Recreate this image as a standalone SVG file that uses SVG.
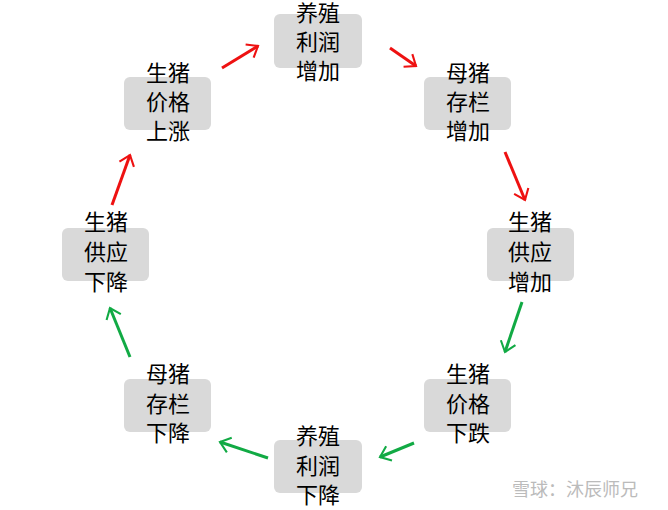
<svg xmlns="http://www.w3.org/2000/svg" width="668" height="510" viewBox="0 0 668 510">
<style>
.b{fill:#d9d9d9}
.t{font-family:"Noto Sans CJK SC","Noto Sans",sans-serif;font-size:22px;fill:#000;text-anchor:middle}
.r{stroke:#ee1111;stroke-width:3;fill:none}
.g{stroke:#11aa44;stroke-width:3;fill:none}
.w{font-family:"Noto Sans CJK SC",sans-serif;font-size:18px;fill:#bbbbbb}
</style>
<defs>
<marker id="mr" viewBox="0 0 10 10" refX="9" refY="5" markerWidth="7" markerHeight="7" orient="auto" markerUnits="userSpaceOnUse" style="overflow:visible"><path d="M-5,-6 L9,5 L-5,16" fill="none" stroke="#ee1111" stroke-width="3"/></marker>
<marker id="mg" viewBox="0 0 10 10" refX="9" refY="5" markerWidth="7" markerHeight="7" orient="auto" markerUnits="userSpaceOnUse" style="overflow:visible"><path d="M-5,-6 L9,5 L-5,16" fill="none" stroke="#11aa44" stroke-width="3"/></marker>
</defs>
<rect width="668" height="510" fill="#fff"/>
<g id="connectors">
<line class="r" x1="222" y1="68" x2="258" y2="46" marker-end="url(#mr)"/>
<line class="r" x1="390" y1="48" x2="416" y2="66" marker-end="url(#mr)"/>
<line class="r" x1="505" y1="152" x2="525" y2="200" marker-end="url(#mr)"/>
<line class="r" x1="112" y1="205" x2="130" y2="155" marker-end="url(#mr)"/>
<line class="g" x1="522" y1="302" x2="505" y2="352" marker-end="url(#mg)"/>
<line class="g" x1="414" y1="443" x2="380" y2="457" marker-end="url(#mg)"/>
<line class="g" x1="268" y1="458" x2="220" y2="442" marker-end="url(#mg)"/>
<line class="g" x1="130" y1="357" x2="110" y2="308" marker-end="url(#mg)"/>
</g>
<g id="n1"><rect class="b" x="274" y="14" width="88" height="54" rx="6"/><text class="t" x="318" y="21">养殖</text><text class="t" x="318" y="50">利润</text><text class="t" x="318" y="79">增加</text></g>
<g id="n2"><rect class="b" x="424" y="77" width="87" height="53" rx="6"/><text class="t" x="468" y="81">母猪</text><text class="t" x="468" y="110">存栏</text><text class="t" x="468" y="139">增加</text></g>
<g id="n3"><rect class="b" x="487" y="228" width="87" height="53" rx="6"/><text class="t" x="530" y="230">生猪</text><text class="t" x="530" y="260">供应</text><text class="t" x="530" y="290">增加</text></g>
<g id="n4"><rect class="b" x="424" y="379" width="87" height="53" rx="6"/><text class="t" x="468" y="382">生猪</text><text class="t" x="468" y="412">价格</text><text class="t" x="468" y="441">下跌</text></g>
<g id="n5"><rect class="b" x="274" y="440" width="88" height="53" rx="6"/><text class="t" x="318" y="444">养殖</text><text class="t" x="318" y="474">利润</text><text class="t" x="318" y="503">下降</text></g>
<g id="n6"><rect class="b" x="124" y="379" width="87" height="53" rx="6"/><text class="t" x="168" y="382">母猪</text><text class="t" x="168" y="412">存栏</text><text class="t" x="168" y="441">下降</text></g>
<g id="n7"><rect class="b" x="62" y="228" width="87" height="53" rx="6"/><text class="t" x="106" y="230">生猪</text><text class="t" x="106" y="260">供应</text><text class="t" x="106" y="290">下降</text></g>
<g id="n8"><rect class="b" x="124" y="77" width="87" height="53" rx="6"/><text class="t" x="168" y="81">生猪</text><text class="t" x="168" y="110">价格</text><text class="t" x="168" y="139">上涨</text></g>
<text class="w" x="512" y="496">雪球：沐辰师兄</text>
</svg>
